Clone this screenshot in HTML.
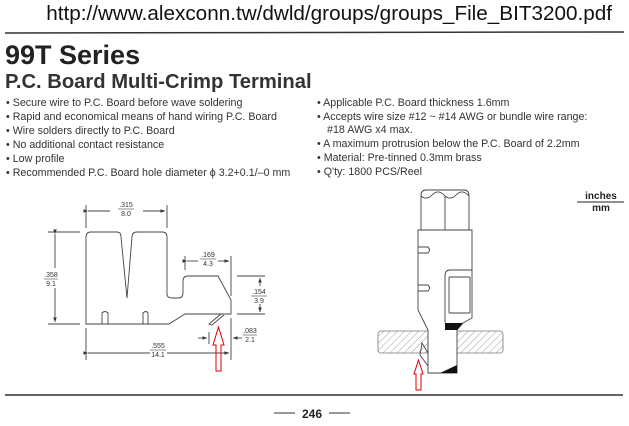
<!DOCTYPE html>
<html><head><meta charset="utf-8"><style>
html,body{margin:0;padding:0;background:#fff;width:629px;height:426px;overflow:hidden}
svg{display:block}
.b{font-family:"Liberation Sans",sans-serif;font-size:10.7px;fill:#333}
.d{font-family:"Liberation Sans",sans-serif;font-size:7px;fill:#333}
</style></head><body>
<svg width="629" height="426" viewBox="0 0 629 426" xmlns="http://www.w3.org/2000/svg">
<defs>
<pattern id="h" width="5" height="5" patternUnits="userSpaceOnUse" patternTransform="rotate(45)">
<rect width="5" height="5" fill="#fff"/><line x1="0" y1="0" x2="0" y2="5" stroke="#888" stroke-width="0.8"/></pattern>
<marker id="a" markerWidth="6" markerHeight="6" refX="5" refY="3" orient="auto"><path d="M0,1 L5,3 L0,5 Z" fill="#333"/></marker>
</defs>
<text x="612" y="20" text-anchor="end" font-family="Liberation Sans,sans-serif" font-size="20.7" fill="#111">http://www.alexconn.tw/dwld/groups/groups_File_BIT3200.pdf</text>
<line x1="5" y1="33" x2="624" y2="32" stroke="#333" stroke-width="1.5"/>
<text x="5" y="64" font-family="Liberation Sans,sans-serif" font-weight="bold" font-size="27" fill="#222">99T Series</text>
<text x="5" y="88" font-family="Liberation Sans,sans-serif" font-weight="bold" font-size="20.2" fill="#333">P.C. Board Multi-Crimp Terminal</text>
<g class="b">
<text x="6" y="106">• Secure wire to P.C. Board before wave soldering</text>
<text x="6" y="120">• Rapid and economical means of hand wiring P.C. Board</text>
<text x="6" y="134">• Wire solders directly to P.C. Board</text>
<text x="6" y="148">• No additional contact resistance</text>
<text x="6" y="162">• Low profile</text>
<text x="6" y="176">• Recommended P.C. Board hole diameter ϕ 3.2+0.1/–0 mm</text>
<text x="317" y="106">• Applicable P.C. Board thickness 1.6mm</text>
<text x="317" y="120">• Accepts wire size #12 ~ #14 AWG or bundle wire range:</text>
<text x="327" y="133">#18 AWG x4 max.</text>
<text x="317" y="147">• A maximum protrusion below the P.C. Board of 2.2mm</text>
<text x="317" y="161">• Material: Pre-tinned 0.3mm brass</text>
<text x="317" y="175">• Q'ty: 1800 PCS/Reel</text>
</g>
<text x="601" y="199" text-anchor="middle" font-family="Liberation Sans,sans-serif" font-weight="bold" font-size="10" fill="#222">inches</text>
<line x1="577" y1="202" x2="624" y2="202" stroke="#222"/>
<text x="601" y="211" text-anchor="middle" font-family="Liberation Sans,sans-serif" font-weight="bold" font-size="10" fill="#222">mm</text>
<g fill="none" stroke="#444" stroke-width="0.9">
<path d="M86,324 L86,237 Q86,232 91,232 L117,232 Q121,232 121,237 L127,298 L132,237 Q132,232 137,232 L162,232 Q167,232 167,237 L167,294 Q167,298 172,298 L179,298 Q183,298 183,292 L183,281 Q183,276 188,276 L218,276 L231,300 L231,314 L185,314 L169,324 Z"/>
<path d="M102,324 L102,313 Q105,310 108,313 L108,324 M143,324 L143,313 Q146,310 148,313 L148,324"/>
<path d="M221,314 L209,324 L212,325 L224,315"/>
<line x1="86" y1="228" x2="86" y2="205"/><line x1="167" y1="228" x2="167" y2="205"/>
<line x1="88" y1="211" x2="110" y2="211" marker-start="url(#a)"/><line x1="143" y1="211" x2="165" y2="211" marker-end="url(#a)"/>
<line x1="48" y1="232" x2="80" y2="232"/><line x1="48" y1="324" x2="80" y2="324"/>
<line x1="55" y1="234" x2="55" y2="268" marker-start="url(#a)"/><line x1="55" y1="288" x2="55" y2="322" marker-end="url(#a)"/>
<line x1="185" y1="270" x2="185" y2="256"/><line x1="231" y1="296" x2="231" y2="256"/>
<line x1="187" y1="261" x2="198" y2="261" marker-start="url(#a)"/><line x1="218" y1="261" x2="229" y2="261" marker-end="url(#a)"/>
<line x1="237" y1="276" x2="265" y2="276"/><line x1="237" y1="314" x2="265" y2="314"/>
<line x1="260" y1="286" x2="260" y2="278" marker-end="url(#a)"/><line x1="260" y1="304" x2="260" y2="312" marker-end="url(#a)"/>
<line x1="198" y1="338" x2="207" y2="338" marker-end="url(#a)"/><line x1="242" y1="338" x2="233" y2="338" marker-end="url(#a)"/>
<line x1="209" y1="332" x2="209" y2="344"/><line x1="231" y1="318" x2="231" y2="360"/><line x1="86" y1="328" x2="86" y2="360"/>
<line x1="88" y1="353" x2="150" y2="353" marker-start="url(#a)"/><line x1="167" y1="353" x2="229" y2="353" marker-end="url(#a)"/>
</g>
<g class="d" text-anchor="middle">
<text x="126" y="207">.315</text><line x1="118" y1="209" x2="134" y2="209" stroke="#444" stroke-width="0.6"/><text x="126" y="216">8.0</text>
<text x="51" y="277">.358</text><line x1="44" y1="279" x2="58" y2="279" stroke="#444" stroke-width="0.6"/><text x="51" y="286">9.1</text>
<text x="208" y="257">.169</text><line x1="200" y1="259" x2="216" y2="259" stroke="#444" stroke-width="0.6"/><text x="208" y="266">4.3</text>
<text x="259" y="294">.154</text><line x1="251" y1="296" x2="267" y2="296" stroke="#444" stroke-width="0.6"/><text x="259" y="303">3.9</text>
<text x="250" y="333">.083</text><line x1="243" y1="335" x2="257" y2="335" stroke="#444" stroke-width="0.6"/><text x="250" y="342">2.1</text>
<text x="158" y="348">.555</text><line x1="150" y1="350" x2="166" y2="350" stroke="#444" stroke-width="0.6"/><text x="158" y="357">14.1</text>
</g>
<path d="M218.5,327 L224,345 L221,345 L221,371 L216,371 L216,345 L213,345 Z" fill="none" stroke="#d00" stroke-width="1"/>
<rect x="378" y="331" width="125" height="22" rx="3" fill="url(#h)" stroke="#777" stroke-width="0.8"/>
<rect x="428" y="330" width="29" height="25" fill="#fff"/>
<g fill="none" stroke="#444" stroke-width="0.9">
<path d="M421,230 L421,196 Q421,190 426,190 L464,190 Q469,190 469,196 L469,230"/>
<path d="M421,196 Q427,201 433,194 Q439,189 445,196 Q451,201 457,194 Q463,189 469,196"/>
<line x1="445" y1="196" x2="445" y2="230"/>
<path d="M418,230 L472,230 L472,318 L463,323 L457,330 L457,373 L428,373 L428,330 L418,310 Z" fill="#fff"/>
<path d="M418,247 L428,247 Q431,250 428,253 L418,253 M418,285 L428,285 Q431,288 428,291 L418,291"/>
<path d="M472,270 L450,270 Q445,270 445,276 L445,323"/>
<rect x="449" y="277" width="21" height="36" rx="1"/>
<path d="M428,353 L422,343 L420,355 L428,366"/>
</g>
<path d="M445,323 L463,323 L457,330 L445,330 Z" fill="#111"/>
<path d="M440,373 L457,365 L457,373 Z" fill="#111"/>
<path d="M418.5,360 L423,374 L421,374 L421,390 L416,390 L416,374 L414,374 Z" fill="none" stroke="#d00" stroke-width="1"/>
<line x1="5" y1="395" x2="623" y2="395" stroke="#333" stroke-width="1.5"/>
<line x1="274" y1="413" x2="295" y2="413" stroke="#333"/><line x1="329" y1="413" x2="350" y2="413" stroke="#333"/>
<text x="312" y="418" text-anchor="middle" font-family="Liberation Sans,sans-serif" font-weight="bold" font-size="12" fill="#222">246</text>
</svg>
</body></html>
